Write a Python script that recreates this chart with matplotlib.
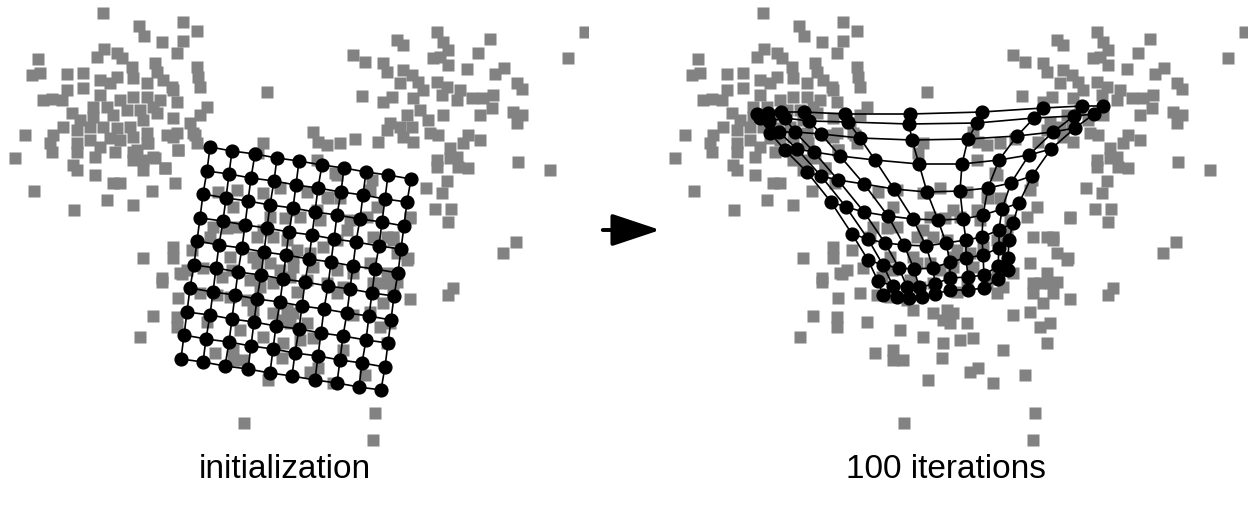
import matplotlib
matplotlib.use("Agg")
import matplotlib.pyplot as plt
from matplotlib.patches import FancyArrowPatch

# ---------------- data (pixel units of a panel, y grows downward) -------------
data_x = [103,139,144,183,197,162,183,177,104,97,117,122,132,133,155,157,163,172,197,198,200,
          38,40,32,67,83,100,110,117,67,83,43,52,62,100,93,107,120,133,147,147,160,177,173,
          72,80,93,113,127,140,153,63,77,90,103,117,130,143,157,173,190,200,207,
          25,53,50,52,77,90,100,110,120,133,147,173,195,15,77,95,115,137,148,153,133,143,165,178,
          73,77,95,113,120,175,152,34,107,133,74,
          353,365,267,362,313,318,327,340,355,378,263,258,328,335,372,370,317,
          437,443,397,403,490,478,433,448,448,440,467,495,504,585,568,517,522,
          383,387,403,412,400,418,423,437,447,442,460,457,472,483,493,480,492,513,522,517,
          413,392,383,420,428,443,407,390,387,400,412,403,413,430,438,468,480,463,450,457,450,
          437,437,458,468,518,550,447,426,442,435,451,448,516,503,410,393,408,
          167,177,193,197,178,147,133,143,155,165,218,237,233,263,280,285,293,270,263,213,210,
          227,237,257,273,287,173,173,143,192,187,180,162,203,230,232,253,257,270,280,293,293,250,222,
          307,327,337,340,377,410,300,317,320,347,337,350,367,373,387,393,323,310,297,337,353,370,
          387,407,397,313,307,327,373,390,290,
          162,178,153,177,177,140,200,217,230,207,240,233,215,233,243,263,283,282,273,283,293,253,
          247,260,273,297,268,244,182,
          337,343,380,397,410,448,453,383,390,380,353,287,290,307,300,313,343,318,310,333,365,375,373,
          387,370,393,373]
data_y = [13,26,36,22,31,42,41,53,49,57,53,58,67,78,63,72,80,87,67,77,87,
          59,73,75,74,73,80,83,77,90,88,100,99,100,95,107,107,100,97,97,83,100,102,90,
          113,120,117,115,110,110,107,127,130,127,127,128,127,120,113,118,123,115,107,
          135,135,143,152,143,140,147,138,140,137,133,137,135,158,152,157,152,150,143,157,160,170,168,150,
          165,170,175,183,183,183,191,191,200,205,210,
          55,62,92,96,132,142,145,143,139,142,143,153,198,173,180,190,160,
          32,42,40,45,39,53,58,50,65,57,69,74,68,32,58,83,89,
          63,72,70,75,83,82,90,82,87,95,90,100,98,98,95,115,108,112,115,123,
          98,97,102,110,120,115,115,123,130,127,127,137,142,133,135,135,140,143,148,157,158,
          160,167,167,168,162,170,181,188,193,209,209,222,242,253,218,237,258,
          135,133,133,143,150,143,152,160,158,168,192,190,207,193,188,218,210,217,230,227,237,
          228,227,237,237,240,247,258,258,250,270,273,278,268,257,270,257,263,263,270,257,267,280,277,
          192,197,175,198,207,217,217,210,220,230,240,220,217,237,237,240,247,253,250,270,273,263,
          273,260,253,267,280,283,283,283,277,
          282,298,316,317,327,337,293,295,297,322,330,350,353,360,360,337,343,358,313,320,313,310,
          300,287,283,292,380,423,274,
          293,287,283,282,299,295,288,303,323,327,315,310,323,323,340,338,350,368,372,383,375,413,440,
          343,312,293,293]

# initial 10x10 map (left panel)
init_x = [
    [210,232,255,277,299,322,344,366,388,411],
    [207,229,251,274,296,318,341,363,385,407],
    [203,226,248,270,293,315,337,360,382,404],
    [200,223,245,267,289,312,334,356,379,401],
    [197,219,242,264,286,309,331,353,375,398],
    [194,216,238,261,283,305,328,350,372,394],
    [190,213,235,257,280,302,324,347,369,391],
    [187,210,232,254,276,299,321,343,366,388],
    [184,206,229,251,273,295,318,340,362,385],
    [181,203,225,248,270,292,315,337,359,381]]
init_y = [
    [147,151,154,158,161,165,168,172,175,179],
    [171,174,178,181,185,188,192,195,199,202],
    [194,198,201,205,208,212,215,219,222,226],
    [218,221,225,228,232,235,239,242,246,249],
    [241,245,248,252,255,259,262,266,269,273],
    [265,268,272,275,279,282,286,289,293,296],
    [288,292,295,299,302,306,309,313,316,320],
    [312,315,319,322,326,329,333,336,340,343],
    [335,339,342,346,349,353,356,360,363,367],
    [359,362,366,369,373,376,380,383,387,390]]

# map after 100 iterations (right panel)
iter_x = [
    [97,108,121,144,185,250,322,383,422,443],
    [100,109,125,149,188,249,317,374,414,434],
    [110,119,135,161,200,252,308,357,393,415],
    [125,137,154,180,215,259,302,339,369,391],
    [147,161,178,204,234,267,300,328,351,372],
    [171,186,204,228,253,278,303,323,342,359],
    [192,208,225,244,266,286,306,322,339,353],
    [208,223,239,254,273,290,306,323,339,349],
    [218,233,247,259,275,290,308,324,338,348],
    [223,237,249,262,275,290,308,324,338,348]]
iter_y = [
    [114,113,112,112,114,114,112,108,106,106],
    [118,121,118,121,122,124,123,118,116,114],
    [133,132,132,134,138,140,139,136,132,128],
    [150,149,152,156,160,164,164,160,155,149],
    [172,176,180,184,189,192,191,188,183,176],
    [202,207,212,216,219,220,219,215,209,203],
    [234,239,243,245,246,243,240,237,230,223],
    [260,265,268,269,268,262,258,255,248,240],
    [281,286,287,287,284,278,277,275,266,258],
    [295,297,298,297,294,290,290,288,279,270]]

titles = ["initialization", "100 iterations"]

# ---------------- figure ----------------
W, H = 1248, 513
fig = plt.figure(figsize=(W / 100, H / 100), dpi=100)
panel_w = 588
ax1 = fig.add_axes([0, 0, panel_w / W, 1])
ax2 = fig.add_axes([660 / W, 0, panel_w / W, 1])

pt_color = "#828282"

def draw(ax, gx, gy, title, tx):
    ax.set_xlim(0, panel_w)
    ax.set_ylim(H, 0)
    ax.axis("off")
    ax.plot(data_x, data_y, ls="none", marker="s", ms=9.0, mfc=pt_color,
            mec="none", zorder=1)
    for r in range(len(gx)):
        ax.plot(gx[r], gy[r], color="black", lw=1.2, zorder=2)
    for c in range(len(gx[0])):
        ax.plot([row[c] for row in gx], [row[c] for row in gy],
                color="black", lw=1.2, zorder=2)
    for r in range(len(gx)):
        ax.plot(gx[r], gy[r], ls="none", marker="o", ms=9.2, mfc="black",
                mec="black", zorder=3)
    ax.text(tx, 470, title, ha="center", va="center", fontsize=24,
            family=["Liberation Sans", "DejaVu Sans"], color="black")

draw(ax1, init_x, init_y, titles[0], 285)
draw(ax2, iter_x, iter_y, titles[1], 286)

arrow = FancyArrowPatch((600, H - 230), (663, H - 230), transform=None,
                        arrowstyle="-|>,head_length=1.5,head_width=0.5",
                        mutation_scale=20, lw=2.8, color="black")
fig.patches.append(arrow)

fig.savefig("out.png", dpi=100)
